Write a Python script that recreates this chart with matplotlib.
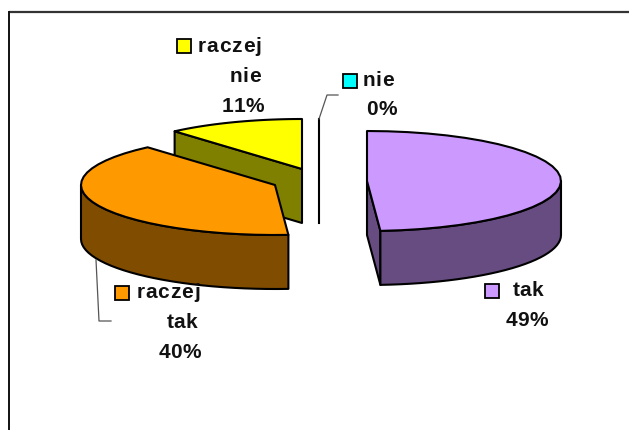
import numpy as np
import matplotlib
matplotlib.use("Agg")
import matplotlib.pyplot as plt
from matplotlib.patches import Polygon, Rectangle

plt.rcParams['font.family'] = ['Liberation Sans', 'DejaVu Sans']

# === Data ===
values = [48.9, 39.7, 11.4, 0]
top_colors = ["#CC99FF", "#FF9900", "#FFFF00", "#00FFFF"]
side_colors = ["#664C80", "#804C00", "#808000", "#008080"]

# === Pie geometry (pixels) ===
RX = 194
RY = 50
DEPTH = 54
START_ANGLE = 90
centers = [(367, 181), (275, 185), (302, 169), (319, 169)]
LW = 1.5
FS = 15


def rim(c, a0, a1, n=30):
    t = np.radians(np.linspace(a0, a1, n))
    return np.column_stack([c[0] + RX * np.cos(t), c[1] - RY * np.sin(t)])


def side_poly(points, color, z):
    pts = np.vstack([points, (points + [0, DEPTH])[::-1]])
    ax.add_patch(Polygon(pts, closed=True, fc=color, ec="black", lw=LW, joinstyle="round", zorder=z))


def top_poly(c, a0, a1, color, z):
    pts = np.vstack([[c], rim(c, a0, a1)])
    ax.add_patch(Polygon(pts, closed=True, fc=color, ec="black", lw=LW, joinstyle="round", zorder=z))


def key(x, y, color):
    ax.add_patch(Rectangle((x, y), 14, 14, fc=color, ec="black", lw=1.3, zorder=7))


def label(x, y, s, track=0.3):
    # letter spaced bold text, x is the centre of the word
    r = fig.canvas.get_renderer()
    widths = []
    for ch in s:
        probe = ax.text(0, 0, ch, fontsize=FS, fontweight="bold")
        widths.append(probe.get_window_extent(r).width)
        probe.remove()
    total = sum(widths) + track * (len(s) - 1)
    pos = x - total / 2
    for ch, w in zip(s, widths):
        ax.text(pos, y, ch, fontsize=FS, fontweight="bold", color="#111111",
                ha="left", va="baseline", zorder=8)
        pos += w + track


fig = plt.figure(figsize=(6.29, 4.30), dpi=100)
ax = fig.add_axes([0, 0, 1, 1])
ax.set_xlim(0, 629)
ax.set_ylim(430, 0)
ax.axis("off")

# chart frame, only top and left fall inside the picture
ax.plot([8.5, 629], [11.5, 11.5], color="#333333", lw=1.6, solid_capstyle="butt")
ax.plot([8.5, 8.5], [11, 430], color="#111111", lw=1.4, solid_capstyle="butt")

# angles of each slice, clockwise from the top
edges = START_ANGLE - np.cumsum([0] + values) / sum(values) * 360
angles = list(zip(edges[:-1], edges[1:]))

# yellow slice sits behind the orange one
a0, a1 = angles[2]
c = np.array(centers[2], float)
side_poly(np.array([rim(c, a0, a0, 1)[0], c]), side_colors[2], 2)
top_poly(c, a0, a1, top_colors[2], 3)

# zero slice is only a line
c = centers[3]
ax.plot([c[0], c[0]], [c[1] - RY, c[1] + DEPTH], color="black", lw=LW, zorder=2)

# orange slice, side wall from the far left round to its front edge
a0, a1 = angles[1]
c = np.array(centers[1], float)
side_poly(rim(c, -180, a0), side_colors[1], 4)
top_poly(c, a0, a1, top_colors[1], 5)

# purple slice, cut face and outer wall
a0, a1 = angles[0]
c = np.array(centers[0], float)
side_poly(np.array([c, rim(c, a1, a1, 1)[0]]), side_colors[0], 4)
side_poly(rim(c, a1, 0), side_colors[0], 4)
top_poly(c, a0, a1, top_colors[0], 5)

# leader lines
ax.plot([319, 327, 338], [119, 95, 95], color="#555555", lw=0.9, zorder=6)
ax.plot([96, 99, 111], [260, 321, 321], color="#555555", lw=0.9, zorder=6)

key(177, 39, top_colors[2])
label(229.5, 52, "raczej", track=0.8)
label(245, 82, "nie")
label(242.5, 112, f"{values[2]:.0f}%")

key(343, 73.5, top_colors[3])
label(378, 86, "nie")
label(381.5, 115, f"{values[3]:.0f}%")

key(484.5, 283.5, top_colors[0])
label(528, 296, "tak")
label(526.5, 326, f"{values[0]:.0f}%")

key(114.5, 285.5, top_colors[1])
label(168, 298, "raczej", track=0.8)
label(182, 328, "tak")
label(179.5, 358, f"{values[1]:.0f}%")

fig.savefig("out.png", dpi=100)
